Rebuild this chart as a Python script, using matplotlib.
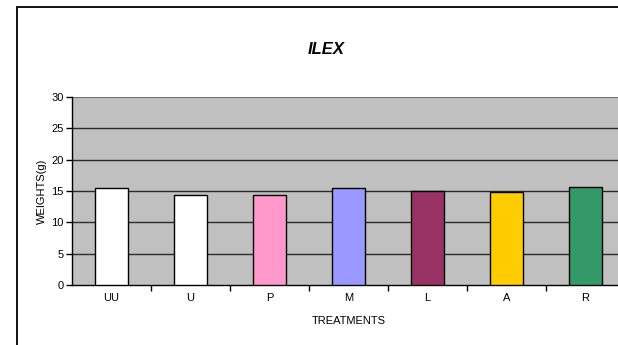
import matplotlib
matplotlib.use("Agg")
import matplotlib.pyplot as plt
from matplotlib.patches import Rectangle
import numpy as np

plt.rcParams['font.family'] = ['Liberation Sans', 'DejaVu Sans']

treatments = ["UU", "U", "P", "M", "L", "A", "R"]
weights = [15.5, 14.35, 14.35, 15.5, 15.05, 14.8, 15.7]
bar_colors = ["#FFFFFF", "#FFFFFF", "#FF99CC", "#9999FF", "#993366", "#FFCC00", "#339966"]
y_ticks = [0, 5, 10, 15, 20, 25, 30]

W, H = 618, 345
fig = plt.figure(figsize=(W / 100, H / 100), dpi=100)
fig.patch.set_facecolor("white")

# outer chart frame (runs off the right and bottom edges)
frame = Rectangle((17 / W, -0.2), 1.2, 1.2 - 7 / H, transform=fig.transFigure,
                  fill=False, edgecolor="black", linewidth=1.3, clip_on=False)
fig.patches.append(frame)

ax = fig.add_axes([72 / W, 60 / H, 553 / W, 188 / H])
ax.set_facecolor("#C0C0C0")

x = np.arange(len(treatments))
ax.bar(x, weights, width=0.41, color=bar_colors, edgecolor="black", linewidth=1.0, zorder=3)

ax.set_xlim(-0.5, len(treatments) - 0.5)
ax.set_ylim(0, 30)
ax.set_yticks(y_ticks)
ax.set_yticklabels([str(v) for v in y_ticks], fontsize=8)
for v in y_ticks[1:-1]:
    ax.axhline(v, color="#2a2a2a", linewidth=1.0, zorder=1)
ax.axhline(30, color="#6e6e6e", linewidth=1.5, zorder=1)

ax.set_xticks(x)
ax.set_xticklabels(treatments, fontsize=8)
ax.set_xticks(np.arange(0.5, len(treatments) - 0.5), minor=True)
ax.tick_params(axis="x", which="major", length=0, pad=6)
ax.tick_params(axis="x", which="minor", length=4, width=1, direction="out", color="black")
ax.tick_params(axis="y", length=4, width=1, direction="out", pad=2)

for side in ["top", "right"]:
    ax.spines[side].set_visible(False)
ax.spines["left"].set_linewidth(1.0)
ax.spines["bottom"].set_linewidth(1.0)

ax.set_xlabel("TREATMENTS", fontsize=8, labelpad=9)
ax.set_ylabel("WEIGHTS(g)", fontsize=8, labelpad=3)

fig.text(326 / W, 1 - 50 / H, "ILEX", fontsize=12, fontweight="bold", fontstyle="italic",
         ha="center", va="center")

fig.savefig("out.png", dpi=100)
